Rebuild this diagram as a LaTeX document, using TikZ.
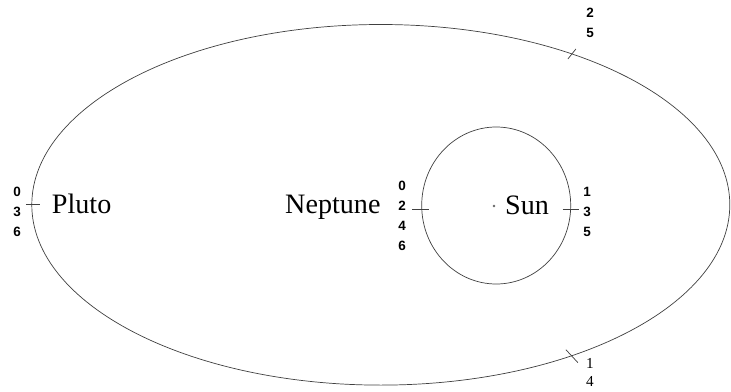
\documentclass[tikz,border=0pt]{standalone}
\usepackage{fontspec}
\setmainfont{Liberation Serif}
\setsansfont{Liberation Sans}
\usetikzlibrary{calc}

\begin{document}
\begin{tikzpicture}[x=0.03cm, y=-0.03cm,
  orb/.style={draw=black!75, line width=0.6pt},
  lbl/.style={anchor=base west, inner sep=0pt, font=\fontsize{24}{24}\selectfont},
  num/.style={align=center, inner sep=0pt, font=\sffamily\bfseries\fontsize{11.5}{17}\selectfont}]
\useasboundingbox (0,0) rectangle (731,391);
% orbits
\coordinate (o) at (380.8,204.8);
\coordinate (s) at (496.2,205.5);
\draw[orb] (o) ellipse [x radius=349, y radius=180.3];
\draw[orb] (s) ellipse [x radius=74.5, y radius=78.5];
\node[circle, fill=black!60, inner sep=0pt, minimum size=2.4pt] (dot) at (494,206) {};
% names
\node[lbl] (pluto) at (51.7,213.5) {Pluto};
\node[lbl] (nep) at (285,213.5) {Neptune};
\node[lbl] (sun) at (505,214.5) {Sun};
% ticks
\coordinate (tp) at ($(o)+(180:349 and 180.3)$);
\coordinate (tt) at ($(o)+(-56.8:349 and 180.3)$);
\coordinate (tb) at ($(o)+(56.8:349 and 180.3)$);
\coordinate (tn) at (421.9,209.5);
\coordinate (ts) at (570.5,209.5);
\draw[orb] ($(tp)+(-6,0)$) -- ($(tp)+(8,0)$);
\draw[orb] ($(tt)+(-4,5)$) -- ($(tt)+(4,-5)$);
\draw[orb] ($(tb)+(-6,-6)$) -- ($(tb)+(6,7)$);
\draw[orb] ($(tn)+(-10,0)$) -- ($(tn)+(7,0)$);
\draw[orb] ($(ts)+(-8,0)$) -- ($(ts)+(8,0)$);
% dates
\node[num] (np) at (17,212) {0\\3\\6};
\node[num] (nn) at (402,216) {0\\2\\4\\6};
\node[num] (ns) at (587,212) {1\\3\\5};
\node[num] (nt) at (590,23) {2\\5};
\node[num, font=\fontsize{13}{16}\selectfont] (nb) at (590,372.5) {1\\4};
\end{tikzpicture}
\end{document}
